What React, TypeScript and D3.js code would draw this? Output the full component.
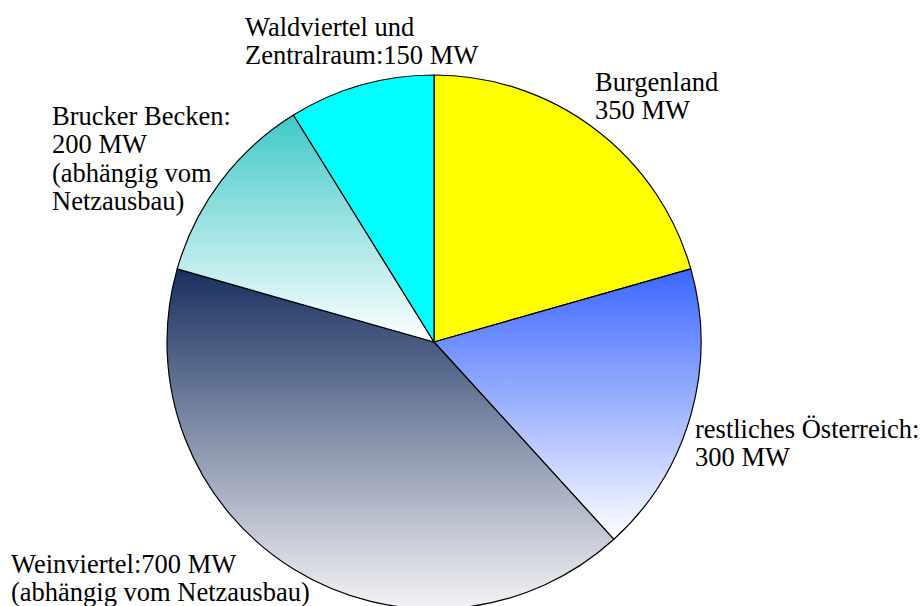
import React from "react";
import * as d3 from "d3";

const categories = ["Burgenland", "restliches Österreich", "Weinviertel", "Brucker Becken", "Waldviertel und Zentralraum"];
const values = [350, 300, 700, 200, 150];
const labelLines = [
  ["Burgenland", "350 MW"],
  ["restliches Österreich:", "300 MW"],
  ["Weinviertel:700 MW", "(abhängig vom Netzausbau)"],
  ["Brucker Becken:", "200 MW", "(abhängig vom", "Netzausbau)"],
  ["Waldviertel und", "Zentralraum:150 MW"],
];
const fills = [
  ["#ffff00", "#ffff00"],
  ["#3a66ff", "#ffffff"],
  ["#18305f", "#f4f4f6"],
  ["#40c8c8", "#ffffff"],
  ["#00ffff", "#00ffff"],
];
const labelPos = [
  [595, 91],
  [695, 438],
  [11, 573],
  [52, 125],
  [245, 36],
];

const FONT = "Liberation Serif, Tinos, Times New Roman, Times, DejaVu Serif, serif";

export default function App() {
  const W = 921, H = 606;
  const cx = 434, cy = 342, r = 267;
  const pie = d3.pie<number>().sort(null).value((d) => d).startAngle(0).endAngle(2 * Math.PI);
  const arcs = pie(values);
  const arc = d3.arc<d3.PieArcDatum<number>>().innerRadius(0).outerRadius(r);
  return (
    <svg width={W} height={H} style={{ position: "absolute", left: 0, top: 0, background: "#fff" }}>
      <defs>
        {fills.map((f, i) => (
          <linearGradient key={i} id={`g${i}`} x1="0" y1="0" x2="0" y2="1">
            <stop offset="0" stopColor={f[0]} />
            <stop offset="1" stopColor={f[1]} />
          </linearGradient>
        ))}
      </defs>
      <g transform={`translate(${cx},${cy})`}>
        {arcs.map((a, i) => (
          <path key={categories[i]} d={arc(a) || ""} fill={`url(#g${i})`} stroke="#000" strokeWidth={1.2} strokeLinejoin="round" />
        ))}
      </g>
      {labelLines.map((lines, i) => (
        <text key={i} x={labelPos[i][0]} y={labelPos[i][1]} style={{ fontFamily: FONT, fontSize: "26.5px" }} fill="#000">
          {lines.map((l, j) => (
            <tspan key={j} x={labelPos[i][0]} dy={j === 0 ? 0 : 28.3}>{l}</tspan>
          ))}
        </text>
      ))}
    </svg>
  );
}
